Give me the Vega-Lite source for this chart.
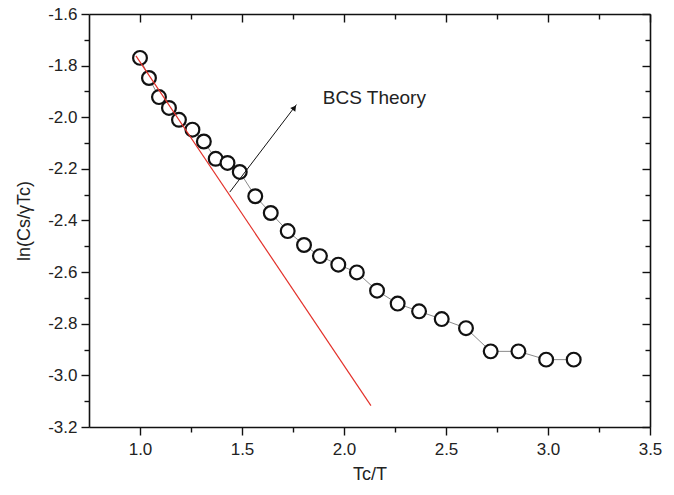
{
  "$schema": "https://vega.github.io/schema/vega-lite/v6.json",
  "width": 561,
  "height": 413,
  "autosize": {"type": "none"},
  "padding": {"left": 89, "top": 14, "right": 24, "bottom": 68},
  "background": "white",
  "config": {
    "view": {"stroke": null},
    "font": "Liberation Sans",
    "axis": {
      "grid": false,
      "domainColor": "#111",
      "domainWidth": 1.6,
      "tickColor": "#111",
      "tickWidth": 1.4,
      "labelFont": "Liberation Sans",
      "labelFontSize": 17,
      "labelColor": "#222",
      "titleFont": "Liberation Sans",
      "titleFontSize": 18,
      "titleFontWeight": "normal",
      "titleColor": "#222"
    }
  },
  "datasets": {
    "points": [
      {"x": 1.0, "y": -1.770},
      {"x": 1.044, "y": -1.848},
      {"x": 1.093, "y": -1.922},
      {"x": 1.142, "y": -1.964},
      {"x": 1.191, "y": -2.010},
      {"x": 1.257, "y": -2.048},
      {"x": 1.313, "y": -2.094},
      {"x": 1.371, "y": -2.161},
      {"x": 1.429, "y": -2.177},
      {"x": 1.489, "y": -2.212},
      {"x": 1.565, "y": -2.306},
      {"x": 1.641, "y": -2.371},
      {"x": 1.724, "y": -2.441},
      {"x": 1.804, "y": -2.495},
      {"x": 1.882, "y": -2.538},
      {"x": 1.972, "y": -2.571},
      {"x": 2.063, "y": -2.601},
      {"x": 2.162, "y": -2.672},
      {"x": 2.263, "y": -2.722},
      {"x": 2.368, "y": -2.752},
      {"x": 2.479, "y": -2.782},
      {"x": 2.598, "y": -2.817},
      {"x": 2.719, "y": -2.907},
      {"x": 2.855, "y": -2.907},
      {"x": 2.991, "y": -2.939},
      {"x": 3.126, "y": -2.939}
    ],
    "bcs": [
      {"x": 0.98, "y": -1.762},
      {"x": 2.132, "y": -3.117}
    ],
    "arrow": [
      {"x": 1.44, "y": -2.29, "x2": 1.767, "y2": -1.951}
    ],
    "head": [
      {"x": 1.757, "y": -1.963}
    ],
    "label": [
      {"x": 1.896, "y": -1.925, "text": "BCS Theory"}
    ]
  },
  "layer": [
    {
      "data": {"name": "points"},
      "mark": {"type": "line", "color": "#8a8a8a", "strokeWidth": 1},
      "encoding": {
        "x": {
          "field": "x", "type": "quantitative",
          "scale": {"domain": [0.75, 3.5], "nice": false, "zero": false},
          "axis": {
            "orient": "bottom",
            "title": "Tc/T",
            "values": [1.0, 1.25, 1.5, 1.75, 2.0, 2.25, 2.5, 2.75, 3.0, 3.25, 3.5],
            "labelExpr": "abs(datum.value*2 - round(datum.value*2)) < 0.001 ? format(datum.value, '.1f') : ''",
            "tickSize": {"condition": {"test": "abs(datum.value*2 - round(datum.value*2)) < 0.001", "value": 8}, "value": 5},
            "labelPadding": 6,
            "titlePadding": 8,
            "labelFlush": false
          }
        },
        "y": {
          "field": "y", "type": "quantitative",
          "scale": {"domain": [-3.2, -1.6], "nice": false, "zero": false},
          "axis": {
            "orient": "left",
            "title": "ln(Cs/γTc)",
            "values": [-3.2, -3.1, -3.0, -2.9, -2.8, -2.7, -2.6, -2.5, -2.4, -2.3, -2.2, -2.1, -2.0, -1.9, -1.8, -1.7, -1.6],
            "labelExpr": "abs(datum.value*5 - round(datum.value*5)) < 0.001 ? replace(format(datum.value, '.1f'), '\u2212', '-') : ''",
            "tickSize": {"condition": {"test": "abs(datum.value*5 - round(datum.value*5)) < 0.001", "value": 8}, "value": 5},
            "labelPadding": 4,
            "titlePadding": 14,
            "labelFlush": false
          }
        }
      }
    },
    {
      "data": {"name": "points"},
      "mark": {"type": "circle", "fill": "white", "fillOpacity": 1, "opacity": 1, "stroke": "#111", "strokeWidth": 2.2, "size": 190},
      "encoding": {
        "x": {"field": "x", "type": "quantitative", "axis": null},
        "y": {"field": "y", "type": "quantitative", "axis": null}
      }
    },
    {
      "data": {"name": "bcs"},
      "mark": {"type": "line", "color": "#e3312a", "strokeWidth": 1.2},
      "encoding": {
        "x": {
          "field": "x", "type": "quantitative",
          "axis": {
            "orient": "top", "title": null, "labels": false,
            "values": [1.0, 1.25, 1.5, 1.75, 2.0, 2.25, 2.5, 2.75, 3.0, 3.25, 3.5],
            "tickSize": {"condition": {"test": "abs(datum.value*2 - round(datum.value*2)) < 0.001", "value": -8}, "value": -5}
          }
        },
        "y": {
          "field": "y", "type": "quantitative",
          "axis": {
            "orient": "right", "title": null, "labels": false,
            "values": [-3.2, -3.1, -3.0, -2.9, -2.8, -2.7, -2.6, -2.5, -2.4, -2.3, -2.2, -2.1, -2.0, -1.9, -1.8, -1.7, -1.6],
            "tickSize": {"condition": {"test": "abs(datum.value*5 - round(datum.value*5)) < 0.001", "value": -8}, "value": -5}
          }
        }
      }
    },
    {
      "data": {"name": "arrow"},
      "mark": {"type": "rule", "color": "#111", "strokeWidth": 1},
      "encoding": {
        "x": {"field": "x", "type": "quantitative", "axis": null},
        "y": {"field": "y", "type": "quantitative", "axis": null},
        "x2": {"field": "x2"},
        "y2": {"field": "y2"}
      }
    },
    {
      "data": {"name": "head"},
      "mark": {"type": "point", "shape": "triangle-up", "angle": 37, "size": 40, "filled": true, "color": "#111", "opacity": 1},
      "encoding": {
        "x": {"field": "x", "type": "quantitative", "axis": null},
        "y": {"field": "y", "type": "quantitative", "axis": null}
      }
    },
    {
      "data": {"name": "label"},
      "mark": {"type": "text", "align": "left", "baseline": "middle", "fontSize": 19, "font": "Liberation Sans", "color": "#222"},
      "encoding": {
        "x": {"field": "x", "type": "quantitative", "axis": null},
        "y": {"field": "y", "type": "quantitative", "axis": null},
        "text": {"field": "text"}
      }
    }
  ],
  "resolve": {"axis": {"x": "independent", "y": "independent"}}
}
